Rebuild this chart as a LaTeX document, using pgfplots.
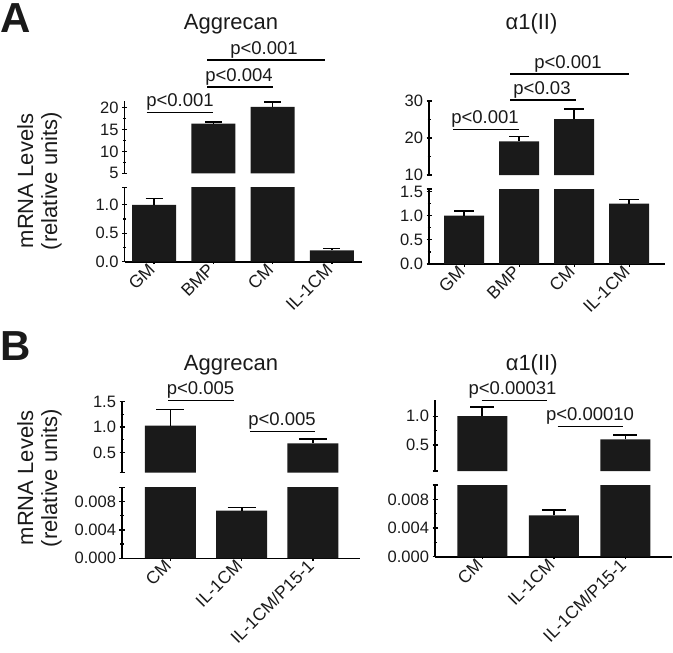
\documentclass[border=0pt]{standalone}
\usepackage{fontspec}
\setmainfont{Liberation Sans}
\usepackage{pgfplots}
\pgfplotsset{compat=1.18}
\definecolor{barc}{HTML}{1A1A1A}
\definecolor{txt}{HTML}{1A1A1A}
\newcommand{\tk}{\fontsize{16.5}{19}\selectfont}
\newcommand{\tkx}{\fontsize{17.5}{20}\selectfont}
\newcommand{\pv}{\fontsize{18.5}{21}\selectfont}
\newcommand{\ttl}{\fontsize{22}{25}\selectfont}
\tikzset{sig/.style={line width=1.3pt, black}}
\pgfplotsset{
  gp/.style={
    scale only axis, anchor=south west,
    tick style={line width=1.3pt, black},
    tick align=outside,
    major tick length=5pt, minor tick length=3pt,
    minor y tick num=1,
    ybar,
    scaled y ticks=false,
    tick label style={font=\tk, text=txt},
    /pgf/number format/assume math mode=true,
    x tick label style={rotate=45, anchor=east, font=\tkx},
    extra y tick labels={},
  },
  lower/.style={axis x line=bottom, axis y line=left,
    axis line style={line width=1.6pt, black, -},
    x axis line style={-}, y axis line style={-}},
  upper/.style={axis x line=none, axis y line=left, xtick=\empty,
    axis line style={line width=1.6pt, black, -},
    y axis line style={-}},
  bars/.style={fill=barc, draw=none,
    error bars/.cd, y dir=plus, y explicit,
    error bar style={line width=1.6pt, black},
    error mark options={line width=1.6pt, black, mark size=#1, rotate=90}},
}
\begin{document}
\begin{tikzpicture}
\useasboundingbox (0,0) rectangle (673pt,-653pt);

% ================= Panel A, Aggrecan =================
\begin{axis}[gp, lower, at={(124.5pt,-261.7pt)}, width=237pt, height=74pt,
  xmin=-0.5, xmax=3.5, ymin=0, ymax=1.3,
  ytick={0,0.5,1}, yticklabels={0.0,0.5,1.0}, extra y ticks={1.3},
  xtick={0,1,2,3}, xticklabels={GM,BMP,CM,IL-1CM}]
\addplot[bar width=44pt, bars=8.5pt] coordinates {(0,1.0) +- (0,0.11) (1,16.4) +- (0,0.4) (2,20.2) +- (0,1.1) (3,0.2) +- (0,0.035)};
\end{axis}
\begin{axis}[gp, upper, at={(124.5pt,-173.3pt)}, width=237pt, height=72pt,
  xmin=-0.5, xmax=3.5, ymin=5, ymax=21.5, restrict y to domain=5:100,
  ytick={5,10,15,20}, yticklabels={5,10,15,20}]
\addplot[bar width=44pt, bars=8.5pt] coordinates {(0,1.0) +- (0,0.11) (1,16.4) +- (0,0.4) (2,20.2) +- (0,1.1) (3,0.2) +- (0,0.035)};
\end{axis}

% ================= Panel A, alpha1(II) =================
\begin{axis}[gp, lower, at={(429pt,-264pt)}, width=236pt, height=75pt,
  xmin=-0.64, xmax=3.65, ymin=0, ymax=1.55,
  ytick={0,0.5,1,1.5}, yticklabels={0.0,0.5,1.0,1.5}, extra y ticks={1.55},
  xtick={0,1,2,3}, xticklabels={GM,BMP,CM,IL-1CM}]
\addplot[bar width=40pt, bars=10pt] coordinates {(0,1.0) +- (0,0.1) (1,19.1) +- (0,1.3) (2,25.1) +- (0,2.8) (3,1.25) +- (0,0.08)};
\end{axis}
\begin{axis}[gp, upper, at={(429pt,-175pt)}, width=236pt, height=74pt,
  xmin=-0.64, xmax=3.65, ymin=10, ymax=30, restrict y to domain=10:100,
  ytick={10,20,30}, yticklabels={10,20,30}]
\addplot[bar width=40pt, bars=10pt] coordinates {(0,1.0) +- (0,0.1) (1,19.1) +- (0,1.3) (2,25.1) +- (0,2.8) (3,1.25) +- (0,0.08)};
\end{axis}

% ================= Panel B, Aggrecan =================
\begin{axis}[gp, lower, at={(122pt,-558.3pt)}, width=238pt, height=71pt,
  xmin=-0.68, xmax=2.66, ymin=0, ymax=0.01,
  ytick={0,0.004,0.008}, yticklabels={0.000,0.004,0.008}, extra y ticks={0.01},
  xtick={0,1,2}, xticklabels={CM,IL-1CM,IL-1CM/P15-1}]
\addplot[bar width=51pt, bars=14pt] coordinates {(0,1.03) +- (0,0.32) (1,0.0067) +- (0,0.00046) (2,0.68) +- (0,0.08)};
\end{axis}
\begin{axis}[gp, upper, at={(122pt,-472.7pt)}, width=238pt, height=71pt,
  xmin=-0.68, xmax=2.66, ymin=0.1, ymax=1.5, restrict y to domain=0.1:10,
  ytick={0.5,1,1.5}, yticklabels={0.5,1.0,1.5}, extra y ticks={0.1}]
\addplot[bar width=51pt, bars=14pt] coordinates {(0,1.03) +- (0,0.32) (1,0.0067) +- (0,0.00046) (2,0.68) +- (0,0.08)};
\end{axis}

% ================= Panel B, alpha1(II) =================
\begin{axis}[gp, lower, at={(435pt,-556.7pt)}, width=237pt, height=71.7pt,
  xmin=-0.66, xmax=2.65, ymin=0, ymax=0.01,
  ytick={0,0.004,0.008}, yticklabels={0.000,0.004,0.008}, extra y ticks={0.01},
  xtick={0,1,2}, xticklabels={CM,IL-1CM,IL-1CM/P15-1}]
\addplot[bar width=50pt, bars=12pt] coordinates {(0,1.0) +- (0,0.16) (1,0.00575) +- (0,0.0008) (2,0.60) +- (0,0.07)};
\end{axis}
\begin{axis}[gp, upper, at={(435pt,-471pt)}, width=237pt, height=71pt,
  xmin=-0.66, xmax=2.65, ymin=0.05, ymax=1.28, restrict y to domain=0.05:10,
  ytick={0.5,1}, yticklabels={0.5,1.0}, extra y ticks={0.05}]
\addplot[bar width=50pt, bars=12pt] coordinates {(0,1.0) +- (0,0.16) (1,0.00575) +- (0,0.0008) (2,0.60) +- (0,0.07)};
\end{axis}

% ================= annotations =================
\node[anchor=base west, inner sep=0, font=\fontsize{42}{44}\selectfont\bfseries, text=txt] at (0pt,-32pt) {A};
\node[anchor=base west, inner sep=0, font=\fontsize{42}{44}\selectfont\bfseries, text=txt] at (0pt,-360.7pt) {B};

\node[anchor=base, font=\ttl, text=txt] at (231pt,-29.5pt) {Aggrecan};
\node[anchor=base, font=\ttl, text=txt] at (531.5pt,-29.5pt) {α1(II)};
\node[anchor=base, font=\ttl, text=txt] at (231pt,-370pt) {Aggrecan};
\node[anchor=base, font=\ttl, text=txt] at (531.7pt,-370pt) {α1(II)};

\node[rotate=90, align=center, font=\fontsize{22}{24}\selectfont, text=txt] at (39.5pt,-181pt) {mRNA Levels\\(relative units)};
\node[rotate=90, align=center, font=\fontsize{22}{24}\selectfont, text=txt] at (39.5pt,-478pt) {mRNA Levels\\(relative units)};

% p-values A left
\draw[sig] (146.7pt,-112.7pt) -- (213pt,-112.7pt);
\node[anchor=base, font=\pv, text=txt, inner sep=0] at (180pt,-106.7pt) {p<0.001};
\draw[sig] (207pt,-87pt) -- (273pt,-87pt);
\node[anchor=base, font=\pv, text=txt, inner sep=0] at (239pt,-81pt) {p<0.004};
\draw[sig] (207pt,-60pt) -- (325pt,-60pt);
\node[anchor=base, font=\pv, text=txt, inner sep=0] at (264pt,-54pt) {p<0.001};
% p-values A right
\draw[sig] (453pt,-129.3pt) -- (519pt,-129.3pt);
\node[anchor=base, font=\pv, text=txt, inner sep=0] at (485pt,-123.3pt) {p<0.001};
\draw[sig] (510pt,-100pt) -- (576pt,-100pt);
\node[anchor=base, font=\pv, text=txt, inner sep=0] at (542pt,-94pt) {p<0.03};
\draw[sig] (510pt,-74pt) -- (629pt,-74pt);
\node[anchor=base, font=\pv, text=txt, inner sep=0] at (568pt,-68pt) {p<0.001};
% p-values B left
\draw[sig] (168pt,-400.7pt) -- (234pt,-400.7pt);
\node[anchor=base, font=\pv, text=txt, inner sep=0] at (200.5pt,-394.7pt) {p<0.005};
\draw[sig] (250pt,-431.7pt) -- (315pt,-431.7pt);
\node[anchor=base, font=\pv, text=txt, inner sep=0] at (282pt,-425.7pt) {p<0.005};
% p-values B right
\draw[sig] (481.7pt,-400.7pt) -- (547pt,-400.7pt);
\node[anchor=base, font=\pv, text=txt, inner sep=0] at (512.5pt,-394.7pt) {p<0.00031};
\draw[sig] (557.7pt,-426.7pt) -- (623.3pt,-426.7pt);
\node[anchor=base, font=\pv, text=txt, inner sep=0] at (590pt,-420.7pt) {p<0.00010};
\end{tikzpicture}
\end{document}
